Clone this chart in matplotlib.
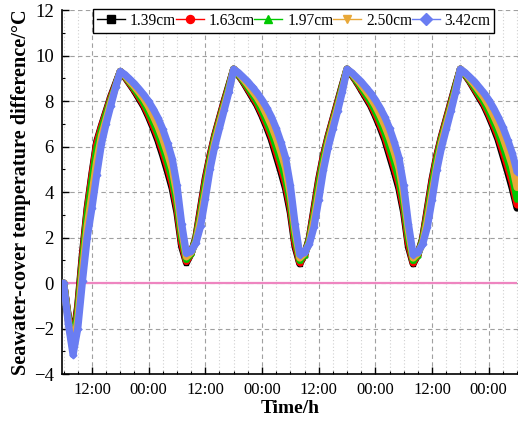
import matplotlib
matplotlib.use("Agg")
import matplotlib.pyplot as plt
from matplotlib.ticker import FixedLocator, MultipleLocator

plt.rcParams['font.family'] = ['Liberation Serif', 'DejaVu Serif']

# hours after 06:00 on the first day, hourly readings
hours = list(range(97))

d139 = [0, -1.5, -2.5, -1.0, 1.3, 3.3, 4.8, 6.2, 6.9, 7.55, 8.2, 8.75,
        9.3, 9.05, 8.75, 8.45, 8.1, 7.75, 7.3, 6.8, 6.25, 5.6, 4.9, 4.15,
        3.1, 1.6, 0.9, 1.3, 2.0, 3.3, 4.6, 5.6, 6.5, 7.25, 8.0, 8.7,
        9.4, 9.15, 8.85, 8.5, 8.15, 7.8, 7.35, 6.85, 6.3, 5.6, 4.9, 4.15,
        3.1, 1.6, 0.85, 1.25, 1.95, 3.25, 4.55, 5.6, 6.45, 7.2, 7.95, 8.7,
        9.4, 9.15, 8.85, 8.5, 8.15, 7.8, 7.35, 6.85, 6.3, 5.6, 4.9, 4.15,
        3.1, 1.6, 0.85, 1.25, 1.95, 3.25, 4.55, 5.6, 6.45, 7.2, 7.95, 8.7,
        9.4, 9.15, 8.85, 8.5, 8.15, 7.8, 7.35, 6.85, 6.3, 5.6, 4.9, 4.15, 3.3]

d163 = [0, -1.55, -2.6, -1.1, 1.15, 3.2, 4.7, 6.1, 6.85, 7.5, 8.15, 8.7,
        9.3, 9.07, 8.78, 8.5, 8.17, 7.83, 7.4, 6.92, 6.4, 5.78, 5.1, 4.35,
        3.3, 1.75, 0.95, 1.3, 1.95, 3.2, 4.5, 5.55, 6.45, 7.2, 7.95, 8.65,
        9.4, 9.17, 8.88, 8.55, 8.22, 7.88, 7.45, 6.97, 6.45, 5.78, 5.1, 4.35,
        3.3, 1.75, 0.9, 1.25, 1.9, 3.15, 4.45, 5.55, 6.4, 7.15, 7.9, 8.65,
        9.4, 9.17, 8.88, 8.55, 8.22, 7.88, 7.45, 6.97, 6.45, 5.78, 5.1, 4.35,
        3.3, 1.75, 0.9, 1.25, 1.9, 3.15, 4.45, 5.55, 6.4, 7.15, 7.9, 8.65,
        9.4, 9.17, 8.88, 8.55, 8.22, 7.88, 7.45, 6.97, 6.45, 5.8, 5.12, 4.4, 3.45]

d197 = [0, -1.6, -2.75, -1.3, 0.9, 2.95, 4.45, 5.85, 6.7, 7.4, 8.05, 8.65,
        9.3, 9.1, 8.83, 8.56, 8.25, 7.93, 7.53, 7.07, 6.57, 5.98, 5.33, 4.6,
        3.55, 2.0, 1.05, 1.3, 1.9, 3.0, 4.3, 5.4, 6.35, 7.1, 7.85, 8.6,
        9.4, 9.2, 8.92, 8.62, 8.3, 7.98, 7.58, 7.12, 6.62, 6.0, 5.35, 4.6,
        3.55, 2.0, 1.0, 1.25, 1.85, 2.95, 4.25, 5.4, 6.3, 7.05, 7.8, 8.6,
        9.4, 9.2, 8.92, 8.62, 8.3, 7.98, 7.58, 7.12, 6.62, 6.0, 5.35, 4.6,
        3.55, 2.0, 1.0, 1.25, 1.85, 2.95, 4.25, 5.4, 6.3, 7.05, 7.8, 8.6,
        9.4, 9.2, 8.92, 8.62, 8.3, 7.98, 7.58, 7.12, 6.62, 6.05, 5.4, 4.7, 3.7]

d250 = [0, -1.7, -2.95, -1.6, 0.55, 2.5, 3.9, 5.35, 6.45, 7.2, 7.95, 8.6,
        9.3, 9.12, 8.88, 8.64, 8.38, 8.1, 7.75, 7.33, 6.87, 6.33, 5.7, 5.0,
        3.9, 2.3, 1.15, 1.35, 1.8, 2.8, 4.0, 5.2, 6.2, 7.0, 7.75, 8.5,
        9.4, 9.22, 8.98, 8.72, 8.44, 8.15, 7.8, 7.38, 6.92, 6.38, 5.75, 5.05,
        3.9, 2.3, 1.1, 1.3, 1.75, 2.75, 3.95, 5.15, 6.15, 6.95, 7.7, 8.5,
        9.4, 9.22, 8.98, 8.72, 8.44, 8.15, 7.8, 7.38, 6.92, 6.38, 5.75, 5.05,
        3.9, 2.3, 1.1, 1.3, 1.75, 2.75, 3.95, 5.15, 6.15, 6.95, 7.7, 8.5,
        9.4, 9.22, 8.98, 8.72, 8.44, 8.15, 7.8, 7.38, 6.92, 6.4, 5.8, 5.15, 4.2]

d342 = [0, -1.8, -3.15, -2.0, 0.1, 2.0, 3.3, 4.75, 6.1, 7.0, 7.8, 8.6,
        9.3, 9.16, 8.96, 8.76, 8.52, 8.27, 7.98, 7.64, 7.25, 6.76, 6.16, 5.46,
        4.3, 2.6, 1.3, 1.4, 1.75, 2.5, 3.7, 5.0, 6.0, 6.8, 7.6, 8.4,
        9.4, 9.25, 9.05, 8.85, 8.6, 8.35, 8.05, 7.7, 7.3, 6.8, 6.2, 5.5,
        4.3, 2.6, 1.25, 1.35, 1.7, 2.45, 3.65, 4.95, 5.95, 6.75, 7.55, 8.4,
        9.4, 9.25, 9.05, 8.85, 8.6, 8.35, 8.05, 7.7, 7.3, 6.8, 6.2, 5.5,
        4.3, 2.6, 1.25, 1.35, 1.7, 2.45, 3.65, 4.95, 5.95, 6.75, 7.55, 8.4,
        9.4, 9.25, 9.05, 8.85, 8.6, 8.35, 8.05, 7.7, 7.3, 6.85, 6.3, 5.7, 4.9]

series = [d139, d163, d197, d250, d342]
labels = ["1.39cm", "1.63cm", "1.97cm", "2.50cm", "3.42cm"]
colors = ["#000000", "#FF0000", "#00C800", "#E8A838", "#6A7DF2"]
markers = ["s", "o", "^", "v", "D"]

tick_hours = [6, 18, 30, 42, 54, 66, 78, 90]
tick_labels = ["12:00", "00:00", "12:00", "00:00", "12:00", "00:00", "12:00", "00:00"]

fig = plt.figure(figsize=(5.18, 4.21), dpi=100)
ax = fig.add_axes([0.1197, 0.1116, 0.8803, 0.8646])

# zero reference line
ax.hlines(0, hours[0], hours[-1], color="#EE85C0", lw=1.6, zorder=2)

for vals, lab, c, m in zip(series, labels, colors, markers):
    # thick band under the symbol curve
    ax.plot(hours, vals, color=c, lw=5.2, solid_capstyle='round',
            solid_joinstyle='round', zorder=3)
    ax.plot(hours, vals, color=c, lw=1, marker=m, ms=3.4, mec=c, label=lab, zorder=3)

ax.set_xlim(-0.34, 96.2)
ax.set_ylim(-4, 12)

ax.xaxis.set_major_locator(FixedLocator(tick_hours))
ax.set_xticklabels(tick_labels)
ax.xaxis.set_minor_locator(MultipleLocator(3))
ax.yaxis.set_major_locator(MultipleLocator(2))
ax.yaxis.set_minor_locator(MultipleLocator(1))

ax.grid(which='major', color='#A0A0A0', lw=0.8, linestyle=(0, (4, 3)))
ax.grid(which='minor', axis='x', color='#D0D0D0', lw=0.8, linestyle=(0, (1, 2)))
ax.set_axisbelow(True)

ax.tick_params(which='major', direction='in', length=5, width=1, labelsize=12, pad=6)
ax.tick_params(which='minor', direction='in', length=2.5, width=0.8)
ax.tick_params(axis='y', labelsize=13.5)

for s in ['top', 'right']:
    ax.spines[s].set_visible(False)
for s in ['left', 'bottom']:
    ax.spines[s].set_linewidth(1.2)

ax.set_xlabel("Time/h", fontsize=14, fontweight='bold', labelpad=1)
ax.set_ylabel("Seawater-cover temperature difference/°C", fontsize=14.6,
              fontweight='bold', labelpad=2)

leg = ax.legend(loc='upper left', bbox_to_anchor=(0.068, 1.003), ncol=5,
                fontsize=11.2, frameon=True, fancybox=False, edgecolor='black',
                handlelength=1.8, handletextpad=0.3, columnspacing=0.0,
                borderpad=0.25, borderaxespad=0, markerscale=1.7, framealpha=1)
leg.get_frame().set_linewidth(1)

fig.savefig("out.png", dpi=100)
